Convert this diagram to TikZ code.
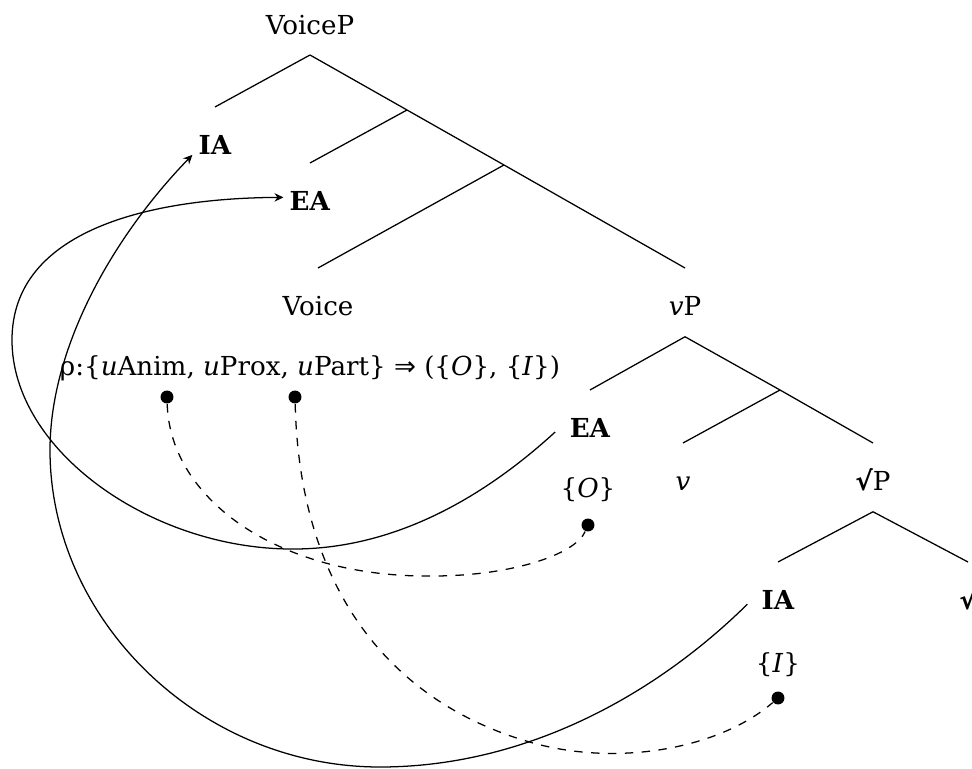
\documentclass[tikz,border=0pt]{standalone}
\usepackage{fontspec}
\setmainfont{DejaVu Serif}
\newfontfamily\symfam{DejaVu Sans}
\usetikzlibrary{arrows.meta}

\begin{document}
\begin{tikzpicture}[x=0.0125cm, y=-0.0125cm, line width=0.45pt, every node/.style={font=\fontsize{9.3}{11}\selectfont},
    lbl/.style={inner xsep=2pt, inner ysep=6.2pt, text height=10.6pt, text depth=1pt},
    dot/.style={circle, fill, inner sep=0pt, minimum size=4.6pt},
    mv/.style={-{Stealth[length=3.2pt, width=3pt]}, shorten <=4pt}]
  \useasboundingbox (0,0) rectangle (972,769);
  % tree
  \node[lbl, anchor=south] (voicep) at (310,55) {VoiceP};
  \node[lbl, anchor=north] (ia) at (215,107) {\textbf{IA}};
  \node[lbl, anchor=north] (ea) at (310,163) {\textbf{EA}};
  \node[lbl, anchor=north] (voice) at (318,268) {Voice};
  \node[lbl, anchor=north] (vp) at (685,268) {\textit{v}P};
  \node[lbl, anchor=north] (ea2) at (590,390) {\textbf{EA}};
  \node[lbl, anchor=north] (lv) at (683,443) {\textit{v}};
  \node[lbl, anchor=north] (rootp) at (873,443) {{\symfam\bfseries √}P};
  \node[lbl, anchor=north] (ia2) at (778,562) {\textbf{IA}};
  \node[lbl, anchor=north] (rt) at (968,562) {{\symfam\bfseries √}};
  \coordinate (b1) at (407,110);
  \coordinate (b2) at (504,165);
  \coordinate (b3) at (780,390);
  \draw (voicep.south) -- (b1) -- (b2) -- (vp.north);
  \draw (b1) -- (ea.north);
  \draw (b2) -- (voice.north);
  \draw (vp.south) -- (b3) -- (rootp.north);
  \draw (b3) -- (lv.north);
  \foreach \a/\b in {voicep/ia, vp/ea2, rootp/ia2, rootp/rt} \draw (\a.south) -- (\b.north);
  % features and values
  \node (rho) at (310,368) {ρ:\{\textit{u}Anim, \textit{u}Prox, \textit{u}Part\} {\symfam ⇒} (\{\textit{O}\}, \{\textit{I}\})};
  \node (o) at (588,490) {\{\textit{O}\}};
  \node (i) at (778,665) {\{\textit{I}\}};
  \node[dot] (d1) at (167,397) {};
  \node[dot] (d2) at (295,397) {};
  \node[dot] (dO) at (588,525) {};
  \node[dot] (dI) at (778,698) {};
  \draw[dashed] (d1) .. controls (170,500) and (280,578) .. (433,576) .. controls (510,576) and (575,555) .. (dO);
  \draw[dashed] (d2) .. controls (300,600) and (400,706) .. (533,743) .. controls (620,767) and (720,748) .. (dI);
  % movement
  \draw[mv] (ea2.west) .. controls (470,510) and (380,550) .. (290,549) .. controls (150,548) and (12,450) .. (12,340) .. controls (12,230) and (150,198) .. (ea.west);
  \draw[mv] (ia2.west) .. controls (650,700) and (520,767) .. (380,767) .. controls (200,767) and (50,620) .. (50,450) .. controls (50,350) and (110,240) .. (ia.base west);
\end{tikzpicture}
\end{document}
